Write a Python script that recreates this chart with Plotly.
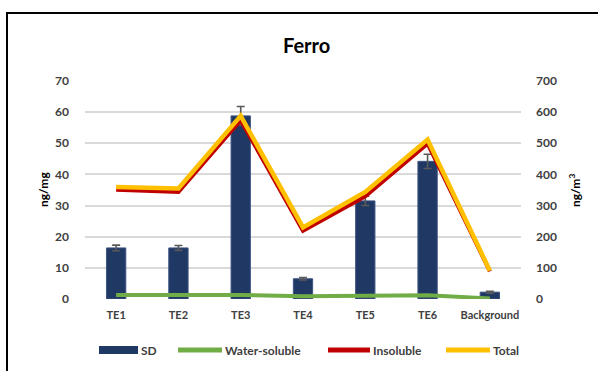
import plotly.graph_objects as go

# Sampling sites
categories = ["TE1", "TE2", "TE3", "TE4", "TE5", "TE6", "Background"]

# Iron concentration in dust (ng/mg), left axis, with standard deviation
sd_values = [16.4, 16.4, 58.8, 6.5, 31.5, 44.2, 2.2]
sd_errors = [0.9, 0.8, 3.0, 0.4, 1.5, 2.3, 0.3]

# Airborne fractions (ng/m3), right axis
water_soluble = [13, 13, 13, 9, 12, 12, 2]
insoluble = [351, 344, 574, 219, 330, 499, 89]
total = [360, 355, 588, 230, 344, 512, 91]

left_ticks = [0, 10, 20, 30, 40, 50, 60, 70]
right_ticks = [0, 100, 200, 300, 400, 500, 600, 700]

W, H = 598, 371
L, R, T, B = 85, 77, 81, 72
plot_w = W - L - R
plot_h = H - T - B

def px(x):
    return (x - L) / plot_w

def py(y):
    return (H - B - y) / plot_h

FONT = "Lato"
TXT = "#404040"
NAVY = "#203864"
GREEN = "#70AD47"
RED = "#C00000"
GOLD = "#FFC000"

fig = go.Figure()

fig.add_trace(go.Bar(
    x=categories, y=sd_values, name="SD",
    marker=dict(color=NAVY, line=dict(color="#3F5482", width=1)),
    width=0.31,
    error_y=dict(type="data", array=sd_errors, visible=True,
                 color="#595959", thickness=1.6, width=4),
    showlegend=False, yaxis="y",
))
fig.add_trace(go.Scatter(
    x=categories, y=water_soluble, name="Water-soluble", mode="lines",
    line=dict(color=GREEN, width=4), showlegend=False, yaxis="y2",
))
fig.add_trace(go.Scatter(
    x=categories, y=insoluble, name="Insoluble", mode="lines",
    line=dict(color=RED, width=4), showlegend=False, yaxis="y2",
))
fig.add_trace(go.Scatter(
    x=categories, y=total, name="Total", mode="lines",
    line=dict(color=GOLD, width=4.5), showlegend=False, yaxis="y2",
))

tick_font = dict(family=FONT, size=12, color=TXT, weight="bold")

fig.update_layout(
    width=W, height=H,
    margin=dict(l=L, r=R, t=T, b=B),
    paper_bgcolor="white", plot_bgcolor="white",
    bargap=0.69,
    xaxis=dict(showgrid=False, showline=False, zeroline=False,
               tickfont=dict(family=FONT, size=11, color=TXT, weight="bold"),
               ticks="", ticklabelstandoff=8),
    yaxis=dict(range=[0, 70], tickvals=left_ticks, showgrid=True,
               gridcolor="#D9D9D9", gridwidth=1.5, zeroline=False,
               showline=False, ticks="", tickfont=tick_font,
               ticklabelstandoff=15),
    yaxis2=dict(range=[0, 700], tickvals=right_ticks, overlaying="y",
                side="right", showgrid=False, zeroline=False,
                showline=False, ticks="", tickfont=tick_font,
                ticklabelstandoff=14),
)


def label(text, x, y, size=12, color="#000000", angle=0, xanchor="center"):
    return dict(text=text, x=px(x), y=py(y), xref="paper", yref="paper",
                xanchor=xanchor, yanchor="middle", showarrow=False,
                textangle=angle,
                font=dict(family=FONT, size=size, color=color, weight="bold"))


annotations = [
    label("Ferro", 306, 45, size=20),
    label("ng/mg", 43, 190, angle=-90),
    label("ng/m<sup>3</sup>", 575, 191, angle=-90),
]

shapes = [
    # chart frame
    dict(type="rect", xref="paper", yref="paper",
         x0=px(7), x1=px(640), y0=py(400), y1=py(13),
         line=dict(color="black", width=2), fillcolor="rgba(0,0,0,0)",
         layer="below"),
]

# legend row
legend_y = 350
legend_items = [
    ("SD", "bar", NAVY, 99, 138),
    ("Water-soluble", "line", GREEN, 178, 222),
    ("Insoluble", "line", RED, 328, 370),
    ("Total", "line", GOLD, 446, 490),
]
for name, kind, color, x0, x1 in legend_items:
    if kind == "bar":
        shapes.append(dict(type="rect", xref="paper", yref="paper",
                           x0=px(x0), x1=px(x1), y0=py(legend_y + 4),
                           y1=py(legend_y - 4), fillcolor=color,
                           line=dict(width=0)))
    else:
        shapes.append(dict(type="line", xref="paper", yref="paper",
                           x0=px(x0), x1=px(x1), y0=py(legend_y),
                           y1=py(legend_y), line=dict(color=color, width=5)))
    annotations.append(label(name, x1 + 1, legend_y, color=TXT,
                             xanchor="left"))

fig.update_layout(annotations=annotations, shapes=shapes)

fig.write_html("out.html")
